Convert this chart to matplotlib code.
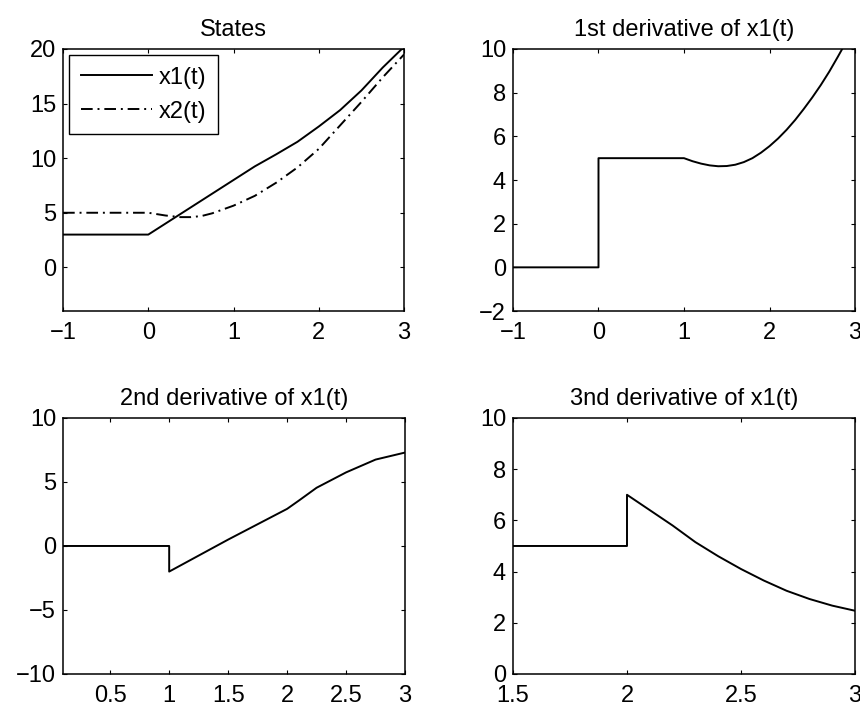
import numpy as np
import matplotlib
matplotlib.use("Agg")
import matplotlib.pyplot as plt

plt.rcParams['font.family'] = ['Liberation Sans', 'DejaVu Sans']
plt.rcParams['font.size'] = 17

# states x1(t), x2(t) with constant history on [-1, 0]
t_x1 = [-1, 0, 0.25, 0.5, 0.75, 1.0, 1.25, 1.5, 1.75, 2.0, 2.25, 2.5, 2.75, 3.0]
x1 = [3, 3, 4.25, 5.5, 6.75, 8.0, 9.25, 10.35, 11.5, 12.9, 14.4, 16.2, 18.3, 20.2]

t_x2 = [-1, 0, 0.2, 0.375, 0.5, 0.625, 0.75, 1.0, 1.25, 1.5, 1.75, 2.0,
        2.25, 2.5, 2.75, 3.0]
x2 = [5, 5, 4.75, 4.6, 4.6, 4.7, 4.95, 5.65, 6.55, 7.75, 9.15, 10.85,
      13.0, 15.15, 17.4, 19.5]

# first derivative of x1
t_d1 = [-1, 0, 0, 1.0, 1.1, 1.2, 1.3, 1.4, 1.5, 1.6, 1.7, 1.8, 1.9, 2.0,
        2.1, 2.2, 2.3, 2.4, 2.5, 2.6, 2.7, 2.8, 2.9, 3.0]
d1 = [0, 0, 5, 5.0, 4.86, 4.75, 4.67, 4.63, 4.64, 4.7, 4.82, 5.0, 5.25, 5.55,
      5.9, 6.3, 6.75, 7.25, 7.78, 8.35, 8.97, 9.65, 10.35, 11.1]

# second derivative of x1
t_d2 = [0.1, 1.0, 1.0, 1.25, 1.5, 1.75, 2.0, 2.1, 2.25, 2.5, 2.75, 3.0]
d2 = [0, 0, -2.0, -0.75, 0.5, 1.7, 2.9, 3.55, 4.55, 5.75, 6.75, 7.3]

# third derivative of x1
t_d3 = [1.5, 2.0, 2.0, 2.1, 2.2, 2.3, 2.4, 2.5, 2.6, 2.7, 2.8, 2.9, 3.0]
d3 = [5, 5, 7.0, 6.4, 5.8, 5.15, 4.6, 4.1, 3.65, 3.25, 2.93, 2.67, 2.47]

fig = plt.figure(figsize=(8.6, 7.07), dpi=100)
ax1 = fig.add_axes([0.0733, 0.5601, 0.3965, 0.3706])
ax2 = fig.add_axes([0.5965, 0.5601, 0.3977, 0.3706])
ax3 = fig.add_axes([0.0733, 0.0467, 0.3977, 0.3621])
ax4 = fig.add_axes([0.5965, 0.0467, 0.3977, 0.3621])

lw = 1.4
fs = 17
ax1.plot(t_x1, x1, color='black', lw=lw, label='x1(t)')
ax1.plot(t_x2, x2, color='black', lw=lw, dashes=[6, 2.5, 1, 2.5], label='x2(t)')
ax1.set_xlim(-1, 3)
ax1.set_ylim(-4, 20)
ax1.set_xticks([-1, 0, 1, 2, 3])
ax1.set_yticks([0, 5, 10, 15, 20])
ax1.set_title('States', fontsize=fs, pad=9)
leg = ax1.legend(loc='upper left', fontsize=fs, handlelength=3.0,
                 borderaxespad=0.25, fancybox=False, framealpha=1,
                 edgecolor='black', borderpad=0.5, labelspacing=0.5,
                 handletextpad=0.3)
leg.get_frame().set_linewidth(1.0)

ax2.plot(t_d1, d1, color='black', lw=lw)
ax2.set_xlim(-1, 3)
ax2.set_ylim(-2, 10)
ax2.set_xticks([-1, 0, 1, 2, 3])
ax2.set_yticks([-2, 0, 2, 4, 6, 8, 10])
ax2.set_title('1st derivative of x1(t)', fontsize=fs, pad=9)

ax3.plot(t_d2, d2, color='black', lw=lw)
ax3.set_xlim(0.1, 3)
ax3.set_ylim(-10, 10)
ax3.set_xticks([0.5, 1, 1.5, 2, 2.5, 3])
ax3.set_xticklabels(['0.5', '1', '1.5', '2', '2.5', '3'])
ax3.set_yticks([-10, -5, 0, 5, 10])
ax3.set_title('2nd derivative of x1(t)', fontsize=fs, pad=9)

ax4.plot(t_d3, d3, color='black', lw=lw)
ax4.set_xlim(1.5, 3)
ax4.set_ylim(0, 10)
ax4.set_xticks([1.5, 2, 2.5, 3])
ax4.set_xticklabels(['1.5', '2', '2.5', '3'])
ax4.set_yticks([0, 2, 4, 6, 8, 10])
ax4.set_title('3nd derivative of x1(t)', fontsize=fs, pad=9)

for ax in (ax1, ax2, ax3, ax4):
    for s in ax.spines.values():
        s.set_linewidth(1.1)
    ax.tick_params(direction='in', top=True, right=True, length=3,
                   width=0.8, labelsize=fs)
    ax.tick_params(axis='x', pad=8)
    ax.tick_params(axis='y', pad=5)

fig.savefig('out.png', dpi=100)
